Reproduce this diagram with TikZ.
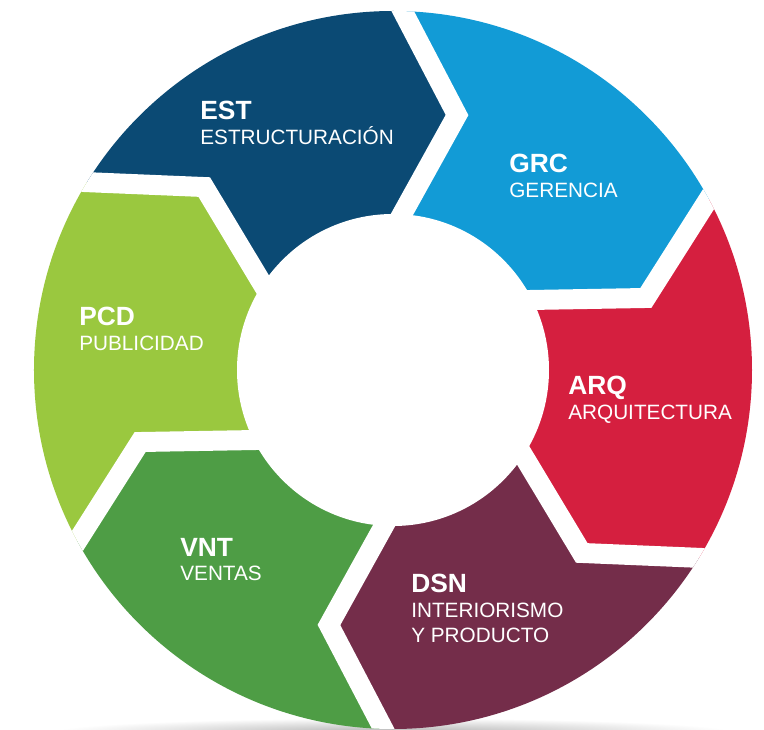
\documentclass[tikz,border=0pt]{standalone}
\usepackage{fontspec}
\setmainfont{Liberation Sans}
\usetikzlibrary{calc,positioning}

\definecolor{estblue}{RGB}{11,74,116}
\definecolor{grcblue}{RGB}{18,155,214}
\definecolor{arqred}{RGB}{213,31,63}
\definecolor{dsnwine}{RGB}{116,45,74}
\definecolor{vntgreen}{RGB}{78,157,69}
\definecolor{pcdlime}{RGB}{154,200,63}

\begin{document}
\begin{tikzpicture}[x=0.02cm, y=0.02cm,
  code/.style={anchor=base west, inner sep=0pt, text=white, font=\bfseries\fontsize{15}{18}\selectfont},
  area/.style={anchor=base west, inner sep=0pt, text=white, align=left, font=\fontsize{11.8}{14.7}\selectfont},
  gap/.style={draw=white, line width=0.4cm, miter limit=10}
]
\useasboundingbox (-393,-360) rectangle (371,370);

% soft shadow under the ring
\shade[inner color=gray!60, outer color=white] (0,-362) ellipse [x radius=340, y radius=14];

% chevron boundaries, one every 60 degrees
\foreach \k in {0,...,5} {
  \coordinate (v\k) at ({75.9-60*\k}:262.9);
  \coordinate (o\k) at ($(v\k)+({117.6-60*\k}:250)$);
  \coordinate (i\k) at ($(v\k)+({241-60*\k}:130)$);
}

\begin{scope}
  \clip (0,0) circle [radius=359];
  \foreach \a/\b/\col in {0/1/grcblue, 1/2/arqred, 2/3/dsnwine, 3/4/vntgreen, 4/5/pcdlime, 5/0/estblue}
    \fill[\col] (0,0) -- (i\a) -- (v\a) -- (o\a) -- (o\b) -- (v\b) -- (i\b) -- cycle;
  \foreach \k in {0,...,5}
    \draw[gap] (i\k) -- (v\k) -- (o\k);
\end{scope}
\fill[white] (0,0) circle [radius=156];

% labels
\node[code] (est) at (-193,250) {EST};
\node[below=0.5cm of est.base west, area] (estname) {ESTRUCTURACIÓN};
\node[code] (grc) at (116,197) {GRC};
\node[below=0.5cm of grc.base west, area] (grcname) {GERENCIA};
\node[code] (arq) at (175,-25) {ARQ};
\node[below=0.5cm of arq.base west, area] (arqname) {ARQUITECTURA};
\node[code] (dsn) at (18,-222) {DSN};
\node[below=1.02cm of dsn.base west, area] (dsnname) {INTERIORISMO\\Y PRODUCTO};
\node[code] (vnt) at (-213,-186) {VNT};
\node[below=0.5cm of vnt.base west, area] (vntname) {VENTAS};
\node[code] (pcd) at (-314,44) {PCD};
\node[below=0.5cm of pcd.base west, area] (pcdname) {PUBLICIDAD};
\end{tikzpicture}
\end{document}
